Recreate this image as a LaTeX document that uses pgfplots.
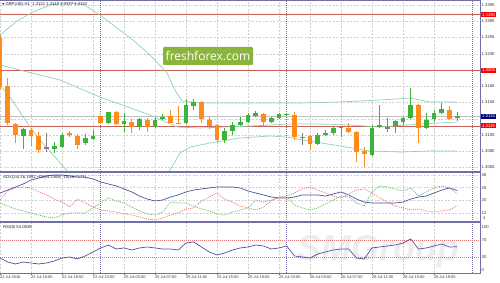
\documentclass[border=0pt]{standalone}
\usepackage{pgfplots}
\pgfplotsset{compat=1.18}
\usepackage{pgfplotstable}
\usepackage{fontspec}
\setmainfont{Liberation Sans}
\newfontfamily\dejavu{DejaVu Sans}
\newfontfamily\logofont{Open Sans}
\definecolor{bull}{HTML}{3CB43C}
\definecolor{bear}{HTML}{FF8C1A}
\definecolor{doji}{HTML}{808080}
\definecolor{bb}{HTML}{8FD3B4}
\definecolor{lvl}{HTML}{C8605A}
\definecolor{frame}{HTML}{7070A8}
\definecolor{gridc}{HTML}{D0D0D0}
\definecolor{adx}{HTML}{5050A0}
\definecolor{pdi}{HTML}{5DB85D}
\definecolor{mdi}{HTML}{E07070}
\definecolor{logog}{HTML}{8AB43C}
\definecolor{navybox}{HTML}{00007F}

\pgfplotstableread{
i o h l c
0 1.32542 1.32588 1.31758 1.31788
1 1.31804 1.31927 1.31204 1.31235
2 1.31219 1.31235 1.30927 1.31050
4 1.31127 1.31158 1.30881 1.31035
5 1.31035 1.31096 1.30773 1.30819
9 1.31081 1.31112 1.31019 1.31050
10 1.31035 1.31065 1.30835 1.30896
13 1.31342 1.31358 1.31219 1.31235
15 1.31404 1.31419 1.31204 1.31219
17 1.31250 1.31296 1.31081 1.31173
19 1.31281 1.31312 1.31096 1.31173
22 1.31342 1.31435 1.31235 1.31235
23 1.31235 1.31496 1.31219 1.31219
26 1.31558 1.31573 1.31235 1.31296
27 1.31281 1.31327 1.31142 1.31188
28 1.31204 1.31219 1.30927 1.30973
34 1.31373 1.31388 1.31173 1.31250
38 1.31358 1.31404 1.30973 1.31019
40 1.31035 1.31050 1.30819 1.30912
45 1.31158 1.31235 1.31081 1.31096
46 1.31096 1.31112 1.30635 1.30789
47 1.30804 1.30865 1.30558 1.30758
54 1.31512 1.31527 1.30927 1.31158
58 1.31435 1.31496 1.31281 1.31296
}\bear

\pgfplotstableread{
i o h l c
3 1.31035 1.31158 1.30835 1.31142
7 1.30835 1.30942 1.30773 1.30881
8 1.30865 1.31081 1.30850 1.31050
11 1.30927 1.31065 1.30896 1.31004
12 1.30989 1.31127 1.30973 1.31035
14 1.31235 1.31404 1.31219 1.31404
16 1.31219 1.31388 1.31096 1.31265
18 1.31173 1.31312 1.31127 1.31296
20 1.31173 1.31312 1.31158 1.31281
21 1.31296 1.31373 1.31281 1.31327
24 1.31235 1.31604 1.31219 1.31512
25 1.31496 1.31604 1.31435 1.31558
29 1.30973 1.31158 1.30927 1.31112
30 1.31112 1.31250 1.31050 1.31204
31 1.31204 1.31327 1.31188 1.31250
32 1.31250 1.31388 1.31235 1.31358
33 1.31342 1.31419 1.31327 1.31388
35 1.31250 1.31327 1.31235 1.31312
36 1.31312 1.31388 1.31296 1.31373
37 1.31360 1.31388 1.31358 1.31373
41 1.30912 1.31081 1.30896 1.31050
42 1.31050 1.31127 1.31035 1.31081
43 1.31081 1.31173 1.31050 1.31158
44 1.31158 1.31188 1.31019 1.31173
48 1.30742 1.31204 1.30727 1.31158
49 1.31173 1.31512 1.31158 1.31204
51 1.31188 1.31281 1.31081 1.31265
52 1.31250 1.31327 1.31204 1.31312
53 1.31312 1.31773 1.31296 1.31512
55 1.31158 1.31388 1.31142 1.31281
56 1.31296 1.31435 1.31250 1.31388
57 1.31388 1.31542 1.31373 1.31450
59 1.31310 1.31400 1.31270 1.31340
}\bull

\pgfplotstableread{
i o h l c
6 1.30850 1.31081 1.30789 1.30850
39 1.31019 1.31081 1.30896 1.31019
50 1.31158 1.31312 1.31096 1.31158
}\doji

\pgfplotstableread{
x y
0 1.32588
2.19 1.32804
4.26 1.32942
6.45 1.33050
8.65 1.33081
10.71 1.33065
12.9 1.32896
15.1 1.32696
17.16 1.32512
19.35 1.32281
21.55 1.32004
22.58 1.31742
23.48 1.31573
25.8 1.31542
32.26 1.31542
38.7 1.31542
43.87 1.31558
49.03 1.31588
52.9 1.31619
55.48 1.31558
59 1.31558
}\bbup

\pgfplotstableread{
x y
0 1.32127
7.74 1.31896
12.9 1.31634
19.35 1.31358
22.84 1.31173
25.8 1.31158
32.26 1.31188
37.42 1.31219
41.29 1.31219
45.16 1.31204
49.03 1.31173
54.19 1.31219
59 1.31250
}\bbmid

\pgfplotstableread{
x y
0 1.31819
1.29 1.31635
2.58 1.31404
3.87 1.31173
5.16 1.30973
7.1 1.30711
8.77 1.30481
9.68 1.30358
12.9 1.30050
18.06 1.30050
21.3 1.30388
21.94 1.30512
23.23 1.30773
24.52 1.30865
27.1 1.30927
30.97 1.31004
34.84 1.31035
37.03 1.31019
39.1 1.30973
43.87 1.30881
47.74 1.30804
51.61 1.30789
55.48 1.30804
59 1.30804
}\bblow

\pgfplotstableread{
i adx pdi mdi
0 24.6 18.3 20.2
1 26.5 16.4 25.9
2 28.4 14.5 27.8
3 30.3 13.3 28.4
4 32.8 12.0 27.8
5 34.1 10.7 25.3
6 35.4 9.5 23.4
7 36.0 8.8 20.8
8 36.0 10.7 18.9
9 35.4 12.0 15.8
10 34.7 12.0 20.8
11 34.7 12.0 18.3
12 33.5 15.2 15.8
13 31.6 18.3 13.9
14 30.3 21.5 13.3
15 29.1 19.6 12.6
16 27.2 18.3 11.4
17 25.3 15.8 10.7
18 22.7 13.3 9.5
19 20.8 11.4 8.2
20 19.6 10.7 7.6
21 20.2 12.6 8.8
22 22.1 18.9 10.7
23 23.4 18.3 12.0
24 25.3 18.3 14.5
25 26.5 16.4 15.2
26 27.2 14.5 19.6
27 27.8 13.3 22.1
28 28.4 11.4 24.6
29 28.4 10.7 20.8
30 28.4 12.6 18.9
31 27.8 13.9 16.4
32 25.9 15.2 15.2
33 24.6 20.2 13.9
34 23.4 18.9 15.8
35 22.1 20.2 19.6
36 21.5 21.5 22.1
37 21.5 22.1 22.7
38 22.1 17.1 24.6
39 23.4 15.2 27.2
40 23.4 13.9 28.4
41 23.4 15.2 26.5
42 22.7 17.7 24.6
43 24.0 20.2 22.7
44 25.3 22.7 21.5
45 23.4 22.1 24.0
46 20.8 18.3 26.5
47 18.9 16.4 27.2
48 18.3 25.3 24.6
49 18.3 29.1 21.5
50 18.3 28.4 18.9
51 18.3 27.2 16.4
52 18.9 25.9 15.2
53 20.8 27.8 13.9
54 22.1 22.7 14.5
55 22.7 25.3 13.3
56 24.6 27.8 12.6
57 26.5 29.1 13.3
58 27.8 27.8 13.9
59 26.2 24.24 16.72
}\adxdata

\pgfplotstableread{
i v
0 27.9
1 18.6
2 14.0
3 18.6
4 16.3
5 14.0
6 16.3
7 20.9
8 27.9
9 30.2
10 25.6
11 32.6
12 41.9
13 51.2
14 58.1
15 48.8
16 51.2
17 46.5
18 51.2
19 53.5
20 51.2
21 48.8
22 48.8
23 46.5
24 62.8
25 65.1
26 53.5
27 41.9
28 34.9
29 39.5
30 46.5
31 51.2
32 53.5
33 58.1
34 55.8
35 48.8
36 51.2
37 55.8
38 32.6
39 30.2
40 27.9
41 37.2
42 41.9
43 46.5
44 48.8
45 48.8
46 27.9
47 25.6
48 51.2
49 53.5
50 55.8
51 58.1
52 62.8
53 72.1
54 48.8
55 51.2
56 55.8
57 60.5
58 53.5
59 54.08
}\rsidata

\pgfplotsset{
  mt/.style={
    scale only axis, width=480pt, xmin=0, xmax=61.94,
    axis line style={draw=none}, tick style={draw=none},
    major tick length=1.5pt,
    grid=major,
    major grid style={gridc, dash pattern=on 2pt off 1.5pt, line width=0.5pt},
    xtick={0,4,...,56}, xticklabels={},
    extra x ticks={13,37,61}, extra x tick labels={},
    extra x tick style={grid=major, major grid style={frame, dash pattern=on 0.7pt off 1.3pt, line width=0.7pt}},
    ytick pos=right, yticklabel pos=right,
    yticklabel style={anchor=west, inner sep=0pt, xshift=1.5pt, font=\fontsize{4.2}{5}\selectfont, text=black!80},
    clip=true,
  },
  wick/.style={draw=none, mark=none, forget plot,
    error bars/.cd, y dir=plus, y explicit, error mark=none,
    error bar style={draw=#1, line width=0.9pt}},
  body/.style={draw=none, mark=none, forget plot,
    error bars/.cd, y dir=plus, y explicit, error mark=none,
    error bar style={draw=#1, line width=4.8pt}},
}

\begin{document}
\begin{tikzpicture}[x=1pt,y=1pt]
\useasboundingbox (0,0) rectangle (500,283);
% watermark
\node[font=\fontsize{36}{36}\selectfont\bfseries\itshape, text=black!7, inner sep=0pt] at (378,31) {SMGroup};

% ---------- main price panel ----------
\begin{axis}[mt, at={(0pt,111pt)}, anchor=south west, height=171pt,
  ymin=1.30481, ymax=1.33112,
  ytick={1.3055,1.3080,1.3105,1.3130,1.3155,1.3180,1.3205,1.3230,1.3255,1.3280,1.3305},
  yticklabels={1.3055,1.3080,1.3105,{},1.3155,1.3180,{},1.3230,1.3255,1.3280,1.3305},
]
\addplot[lvl, line width=0.8pt, forget plot] coordinates {(0,1.3290) (61.94,1.3290)};
\addplot[lvl, line width=0.8pt, forget plot] coordinates {(0,1.3205) (61.94,1.3205)};
\addplot[lvl, line width=0.8pt, forget plot] coordinates {(0,1.3119) (61.94,1.3119)};
\addplot[black!25, line width=0.6pt, forget plot] coordinates {(0,1.3134) (61.94,1.3134)};
\addplot[bb, line width=0.7pt] table[x=x,y=y] {\bbup};
\addplot[bb, line width=0.7pt] table[x=x,y=y] {\bbmid};
\addplot[bb, line width=0.7pt] table[x=x,y=y] {\bblow};
% wicks
\addplot[wick=bear] table[x=i, y=l, y error plus expr={\thisrow{h}-\thisrow{l}}] {\bear};
\addplot[wick=bull] table[x=i, y=l, y error plus expr={\thisrow{h}-\thisrow{l}}] {\bull};
\addplot[wick=doji] table[x=i, y=l, y error plus expr={\thisrow{h}-\thisrow{l}}] {\doji};
% bodies
\addplot[body=bear] table[x=i, y=c, y error plus expr={\thisrow{o}-\thisrow{c}}] {\bear};
\addplot[body=bull] table[x=i, y=o, y error plus expr={\thisrow{c}-\thisrow{o}}] {\bull};
\addplot[body=doji] table[x=i, y expr={\thisrow{c}-0.00008}, y error plus expr={0.00016}] {\doji};
\coordinate (l1) at (axis cs:61.94,1.3290);
\coordinate (l2) at (axis cs:61.94,1.3205);
\coordinate (l3) at (axis cs:61.94,1.3119);
\coordinate (l4) at (axis cs:61.94,1.3134);
\end{axis}

% ---------- ADX panel ----------
\begin{axis}[mt, at={(0pt,61pt)}, anchor=south west, height=50pt,
  ymin=6.31, ymax=37.89,
  ytick={12,20,28,36}, yticklabels={12,20,28,36},
]
\addplot[adx, line width=0.7pt] table[x=i, y=adx] {\adxdata};
\addplot[pdi, line width=0.7pt, dash pattern=on 1pt off 1pt] table[x=i, y=pdi] {\adxdata};
\addplot[mdi, line width=0.7pt, dash pattern=on 1pt off 1pt] table[x=i, y=mdi] {\adxdata};
\end{axis}

% ---------- RSI panel ----------
\begin{axis}[mt, at={(0pt,10pt)}, anchor=south west, height=51pt,
  ymin=-6.98, ymax=111.6,
  ytick={0,30,70,100}, yticklabels={0,30,70,100},
  ymajorgrids=false,
  xticklabels={22 Jul 2016,22 Jul 15:00,22 Jul 19:00,22 Jul 23:00,25 Jul 03:00,25 Jul 07:00,25 Jul 11:00,25 Jul 15:00,25 Jul 19:00,25 Jul 23:00,26 Jul 03:00,26 Jul 07:00,26 Jul 11:00,26 Jul 15:00,26 Jul 19:00},
  xticklabel style={anchor=north west, inner sep=0pt, yshift=-2pt, font=\fontsize{3.9}{4.5}\selectfont, text=black!80},
]
\addplot[mdi, line width=0.6pt, dash pattern=on 1pt off 1pt] coordinates {(0,30) (61.94,30)};
\addplot[mdi, line width=0.6pt, dash pattern=on 1pt off 1pt] coordinates {(0,70) (61.94,70)};
\addplot[adx, line width=0.7pt] table[x=i, y=v] {\rsidata};
\end{axis}

% ---------- frame ----------
\draw[frame, line width=0.8pt] (0,282.6) -- (480.5,282.6);
\draw[frame, line width=0.8pt] (480.5,283) -- (480.5,10);
\draw[frame, line width=2.2pt] (0,111) -- (481,111);
\draw[frame, line width=2.2pt] (0,61) -- (481,61);
\draw[frame, line width=0.8pt] (0,10) -- (481,10);
\foreach \k in {0,...,14} {\draw[frame, line width=0.5pt] ({31*\k},10) -- ({31*\k},8);}

% ---------- labels ----------
\node[anchor=west, inner sep=0pt, font=\fontsize{4.2}{5}\selectfont, text=black!85] at (2,278.3)
  {{\dejavu\fontsize{3}{4}\selectfont ▼}\ GBPUSD,H1\ \ 1.3131\ 1.3140\ 1.3127\ 1.3134};
\node[anchor=west, inner sep=0pt, font=\fontsize{4.2}{5}\selectfont, text=black!85] at (3,105.5)
  {ADX(14) 26.1992 +DI(24.2368) -DI(16.7171)};
\node[anchor=west, inner sep=0pt, font=\fontsize{4.2}{5}\selectfont, text=black!85] at (3,55.5)
  {RSI(8) 54.0838};
\node[anchor=west, inner sep=0pt, font=\fontsize{4.2}{5}\selectfont, text=black!80] at (483,65) {4};

\node[anchor=west, fill=red, text=white, inner xsep=1.2pt, inner ysep=1pt, font=\fontsize{4.2}{4.4}\selectfont] at ([xshift=0.8pt]l1) {1.3290};
\node[anchor=west, fill=red, text=white, inner xsep=1.2pt, inner ysep=1pt, font=\fontsize{4.2}{4.4}\selectfont] at ([xshift=0.8pt]l2) {1.3205};
\node[anchor=west, fill=red, text=white, inner xsep=1.2pt, inner ysep=1pt, font=\fontsize{4.2}{4.4}\selectfont] at ([xshift=0.8pt]l3) {1.3119};
\node[anchor=west, fill=navybox, text=white, inner xsep=1.2pt, inner ysep=1pt, font=\fontsize{4.2}{4.4}\selectfont] at ([xshift=0.8pt]l4) {1.3134};

% logo
\node[fill=logog, text=white, rounded corners=1.2pt, minimum width=90pt, minimum height=18pt, inner sep=0pt,
      font=\logofont\fontsize{12}{12}\selectfont] at (208,227) {freshforex.com};
\end{tikzpicture}
\end{document}
